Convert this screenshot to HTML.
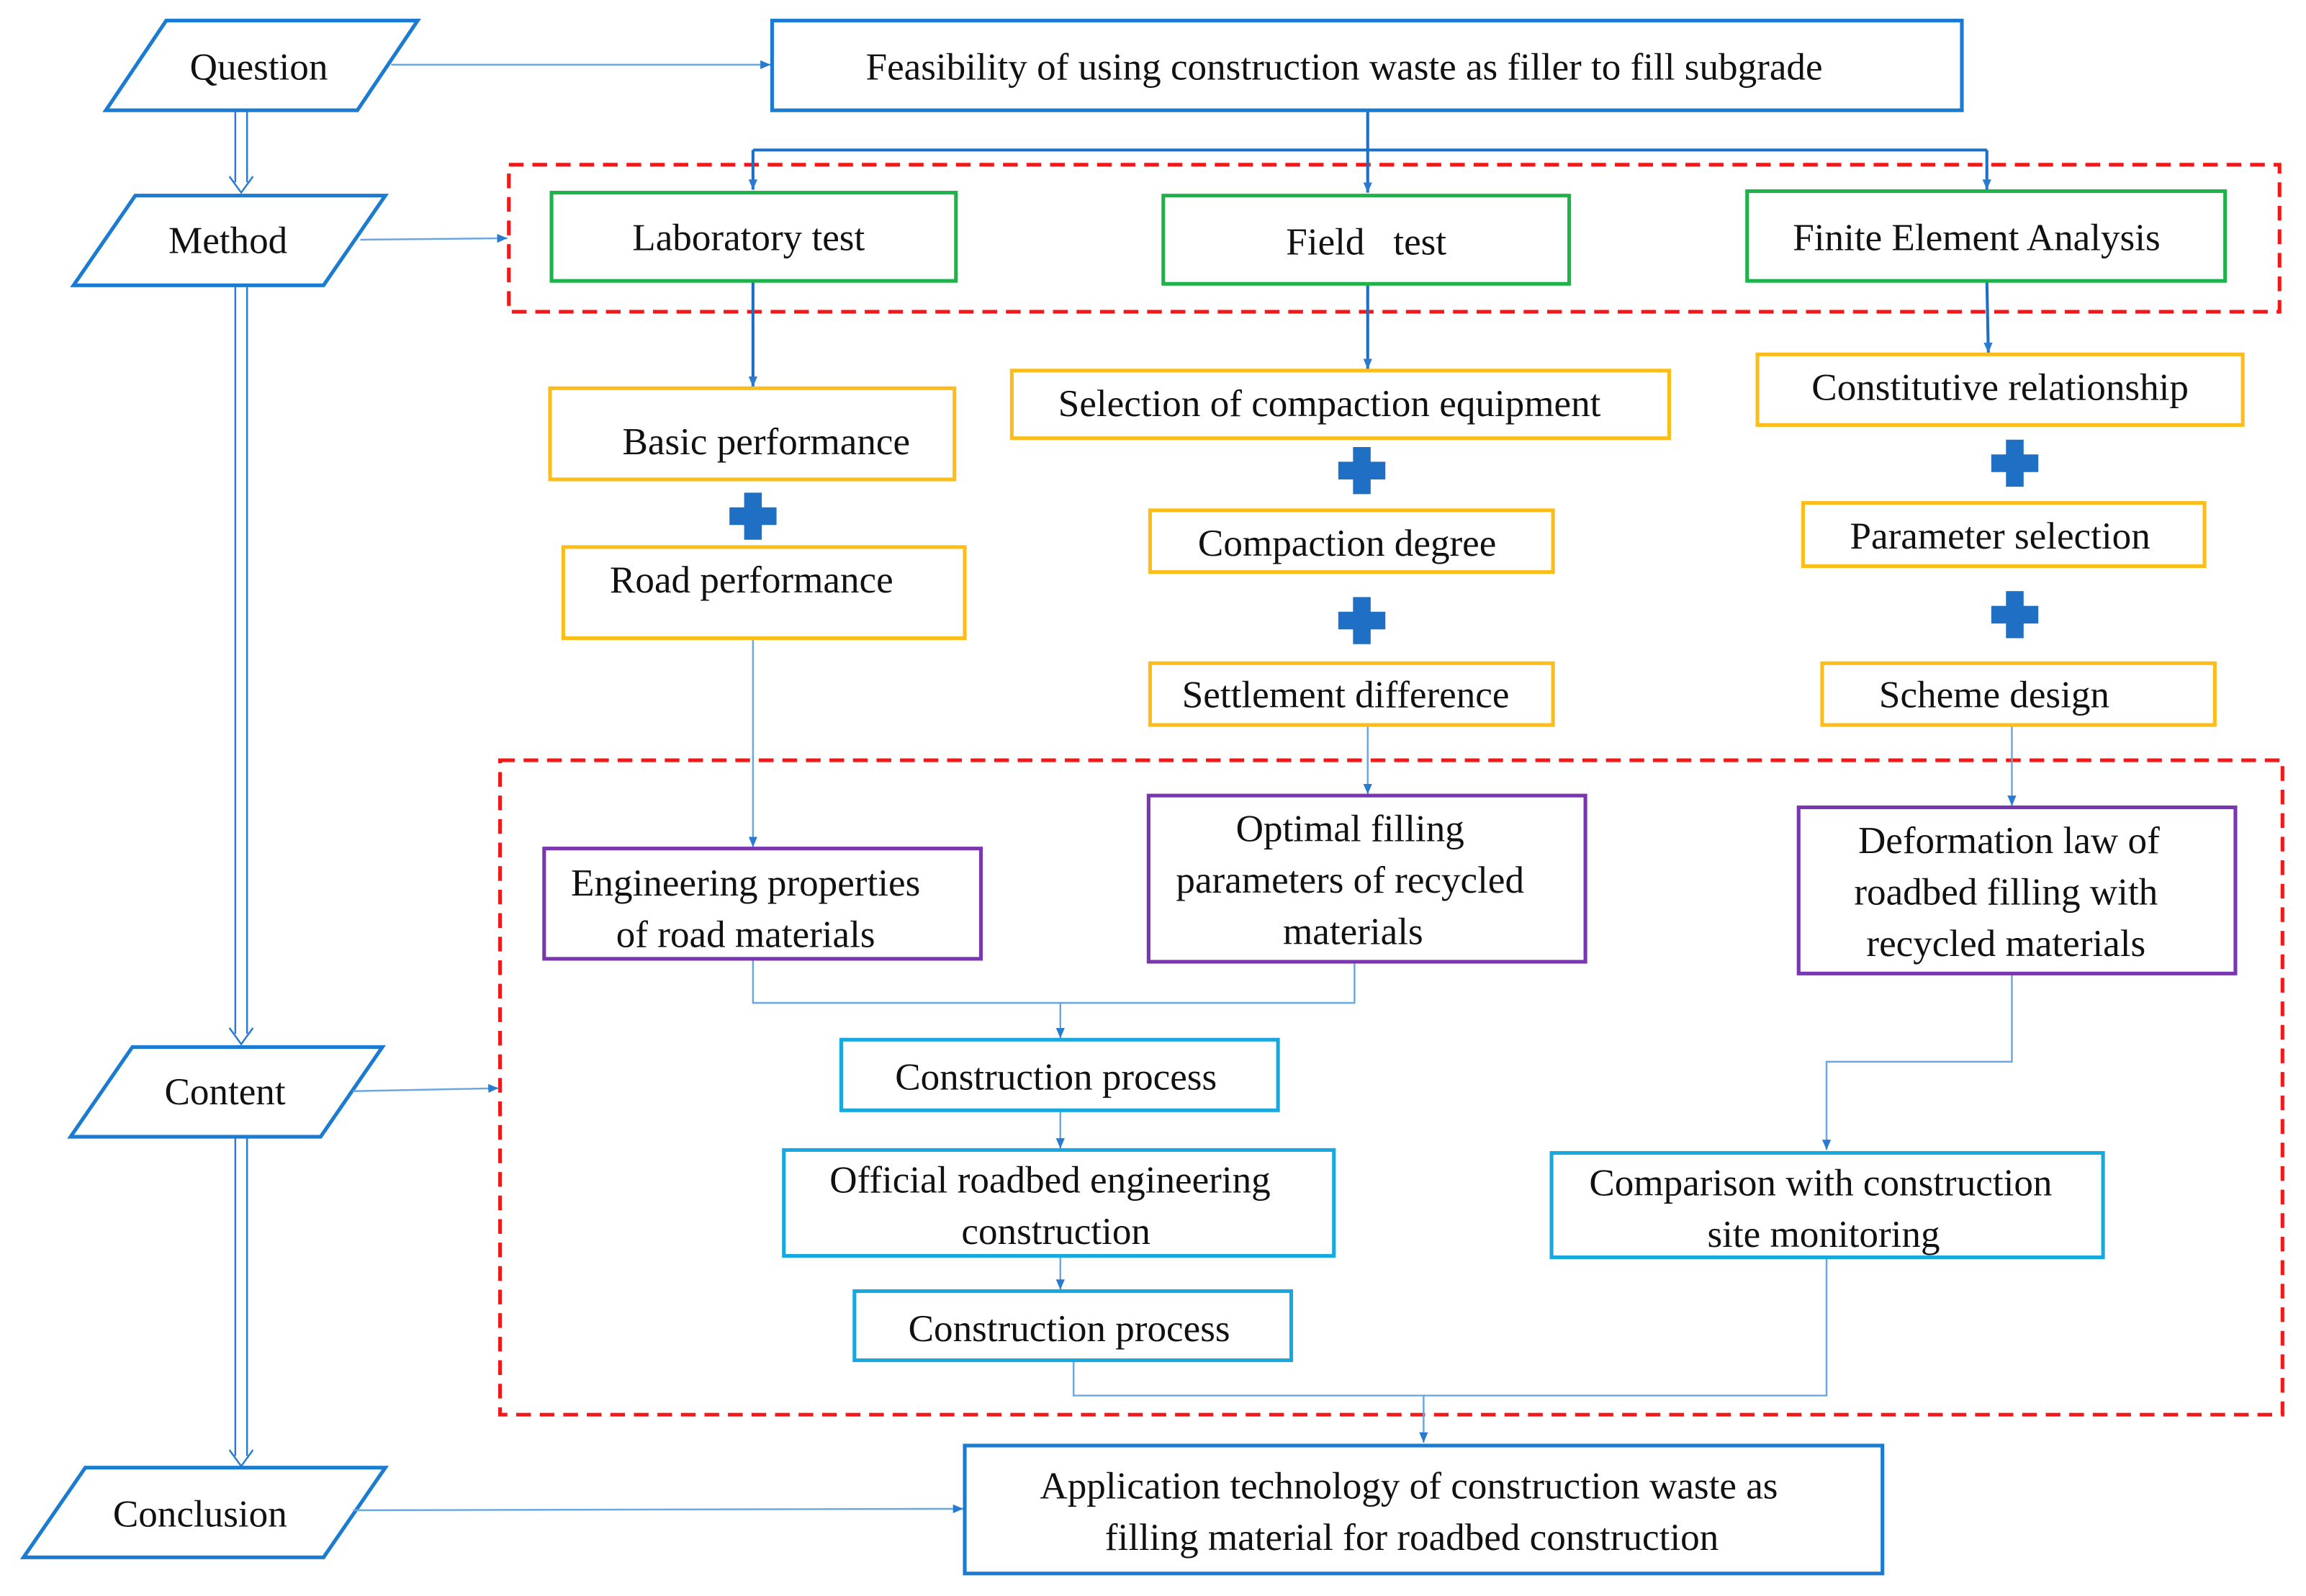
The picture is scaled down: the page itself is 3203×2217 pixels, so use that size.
<!DOCTYPE html>
<html><head><meta charset="utf-8"><style>
html,body{margin:0;padding:0;background:#fff;}
svg{display:block;font-family:'Liberation Serif','DejaVu Serif',serif;}
text{font-family:'Liberation Serif','DejaVu Serif',serif;font-size:26px;fill:#111;text-anchor:middle;}
</style></head><body>
<svg width="3203" height="2217" viewBox="0 0 1568 1085.3" preserveAspectRatio="none" xmlns="http://www.w3.org/2000/svg" font-family="Liberation Serif, DejaVu Serif, serif">
<defs>
<marker id="a" markerWidth="8" markerHeight="8" refX="7" refY="4" orient="auto" markerUnits="userSpaceOnUse"><path d="M0,1 L7,4 L0,7 z" fill="#2a7bd0"/></marker>
</defs>
<rect width="1568" height="1086" fill="#fff"/>
<g fill="#fff" stroke="#1a7bd0" stroke-width="2.5">
<polygon points="113,14 284,14 243,75 72,75"/>
<polygon points="92,133 262,133 220,194 50,194"/>
<polygon points="90,712 260,712 218,773 48,773"/>
<polygon points="58,998 262,998 220,1059 16,1059"/>
</g>
<g font-family="Liberation Serif, DejaVu Serif, serif" font-size="26">
<text x="176" y="54">Question</text>
<text x="155" y="172">Method</text>
<text x="153" y="751">Content</text>
<text x="136" y="1038">Conclusion</text>
</g>
<g stroke="#2a7bd0" stroke-width="1.2" fill="none">
<line x1="160" y1="76" x2="160" y2="124"/><line x1="168" y1="76" x2="168" y2="124"/>
<path d="M156,120 L164,131 L172,120"/>
<line x1="160" y1="195" x2="160" y2="703"/><line x1="168" y1="195" x2="168" y2="703"/>
<path d="M156,699 L164,710 L172,699"/>
<line x1="160" y1="774" x2="160" y2="990"/><line x1="168" y1="774" x2="168" y2="990"/>
<path d="M156,986 L164,997 L172,986"/>
</g>
<g fill="none" stroke="#f01818" stroke-width="2.5" stroke-dasharray="10,6">
<rect x="346" y="112" width="1204" height="100"/>
<rect x="340" y="517" width="1212" height="445"/>
</g>
<g stroke="#6aa6e0" stroke-width="1.2" fill="none" marker-end="url(#a)">
<line x1="266" y1="44" x2="524" y2="44"/>
<line x1="245" y1="163" x2="345" y2="162"/>
<line x1="240" y1="742" x2="339" y2="740"/>
<line x1="240" y1="1027" x2="655" y2="1026"/>
<line x1="512" y1="434" x2="512" y2="576"/>
<line x1="930" y1="493" x2="930" y2="540"/>
<line x1="1368" y1="493" x2="1368" y2="548"/>
<path d="M721,682 L721,706"/>
<line x1="721" y1="755" x2="721" y2="781"/>
<line x1="721" y1="854" x2="721" y2="877"/>
<path d="M1368,662 L1368,722 L1242,722 L1242,782"/>
<path d="M968,949 L968,981"/>
</g>
<g stroke="#6aa6e0" stroke-width="1.2" fill="none">
<path d="M512,652 L512,682 L921,682 L921,654"/>
<path d="M730,925 L730,949 L1242,949 L1242,855"/>
</g>
<g stroke="#1a6fc8" stroke-width="2" fill="none">
<path d="M930,75 L930,102 M512,102 L1351,102"/>
</g>
<g stroke="#1a6fc8" stroke-width="2" fill="none" marker-end="url(#a)">
<line x1="512" y1="102" x2="512" y2="129"/>
<line x1="930" y1="102" x2="930" y2="131"/>
<line x1="1351" y1="102" x2="1351" y2="129"/>
<line x1="512" y1="191" x2="512" y2="263"/>
<line x1="930" y1="193" x2="930" y2="251"/>
<line x1="1351" y1="191" x2="1352" y2="240"/>
</g>
<g fill="#fff" stroke-width="2.5">
<rect x="525" y="14" width="809" height="61" stroke="#1a7bd0"/>
<rect x="375" y="131" width="275" height="60" stroke="#1db34a"/>
<rect x="791" y="133" width="276" height="60" stroke="#1db34a"/>
<rect x="1188" y="130" width="325" height="61" stroke="#1db34a"/>
<g stroke="#fbbd1a">
<rect x="374" y="264" width="275" height="62"/>
<rect x="383" y="372" width="273" height="62"/>
<rect x="688" y="252" width="447" height="46"/>
<rect x="782" y="347" width="274" height="42"/>
<rect x="782" y="451" width="274" height="42"/>
<rect x="1195" y="241" width="330" height="48"/>
<rect x="1226" y="342" width="273" height="43"/>
<rect x="1239" y="451" width="267" height="42"/>
</g>
<g stroke="#7a35b0">
<rect x="370" y="577" width="297" height="75"/>
<rect x="781" y="541" width="297" height="113"/>
<rect x="1223" y="549" width="297" height="113"/>
</g>
<g stroke="#18a8e0">
<rect x="572" y="707" width="297" height="48"/>
<rect x="533" y="782" width="374" height="72"/>
<rect x="581" y="878" width="297" height="47"/>
<rect x="1055" y="784" width="375" height="71"/>
</g>
<rect x="656" y="983" width="624" height="87" stroke="#1a7bd0"/>
</g>
<g fill="#1f6fc4">
<path d="M506,335 h12 v10 h10 v12 h-10 v10 h-12 v-10 h-10 v-12 h10 z"/>
<path d="M920,304 h12 v10 h10 v12 h-10 v10 h-12 v-10 h-10 v-12 h10 z"/>
<path d="M920,406 h12 v10 h10 v12 h-10 v10 h-12 v-10 h-10 v-12 h10 z"/>
<path d="M1364,299 h12 v10 h10 v12 h-10 v10 h-12 v-10 h-10 v-12 h10 z"/>
<path d="M1364,402 h12 v10 h10 v12 h-10 v10 h-12 v-10 h-10 v-12 h10 z"/>
</g>
<g font-family="Liberation Serif, DejaVu Serif, serif" font-size="26">
<text x="914" y="54">Feasibility of using construction waste as filler to fill subgrade</text>
<text x="509" y="170">Laboratory test</text>
<text x="929" y="173" xml:space="preserve">Field   test</text>
<text x="1344" y="170">Finite Element Analysis</text>
<text x="521" y="309">Basic performance</text>
<text x="511" y="403">Road performance</text>
<text x="904" y="283">Selection of compaction equipment</text>
<text x="916" y="378">Compaction degree</text>
<text x="915" y="481">Settlement difference</text>
<text x="1360" y="272">Constitutive relationship</text>
<text x="1360" y="373">Parameter selection</text>
<text x="1356" y="481">Scheme design</text>
<text x="507" y="609">Engineering properties</text>
<text x="507" y="644">of road materials</text>
<text x="918" y="572">Optimal filling</text>
<text x="918" y="607">parameters of recycled</text>
<text x="920" y="642">materials</text>
<text x="1366" y="580">Deformation law of</text>
<text x="1364" y="615">roadbed filling with</text>
<text x="1364" y="650">recycled materials</text>
<text x="718" y="741">Construction process</text>
<text x="714" y="811">Official roadbed engineering</text>
<text x="718" y="846">construction</text>
<text x="727" y="912">Construction process</text>
<text x="1238" y="813">Comparison with construction</text>
<text x="1240" y="848">site monitoring</text>
<text x="958" y="1019">Application technology of construction waste as</text>
<text x="960" y="1054">filling material for roadbed construction</text>
</g>
</svg>
</body></html>
